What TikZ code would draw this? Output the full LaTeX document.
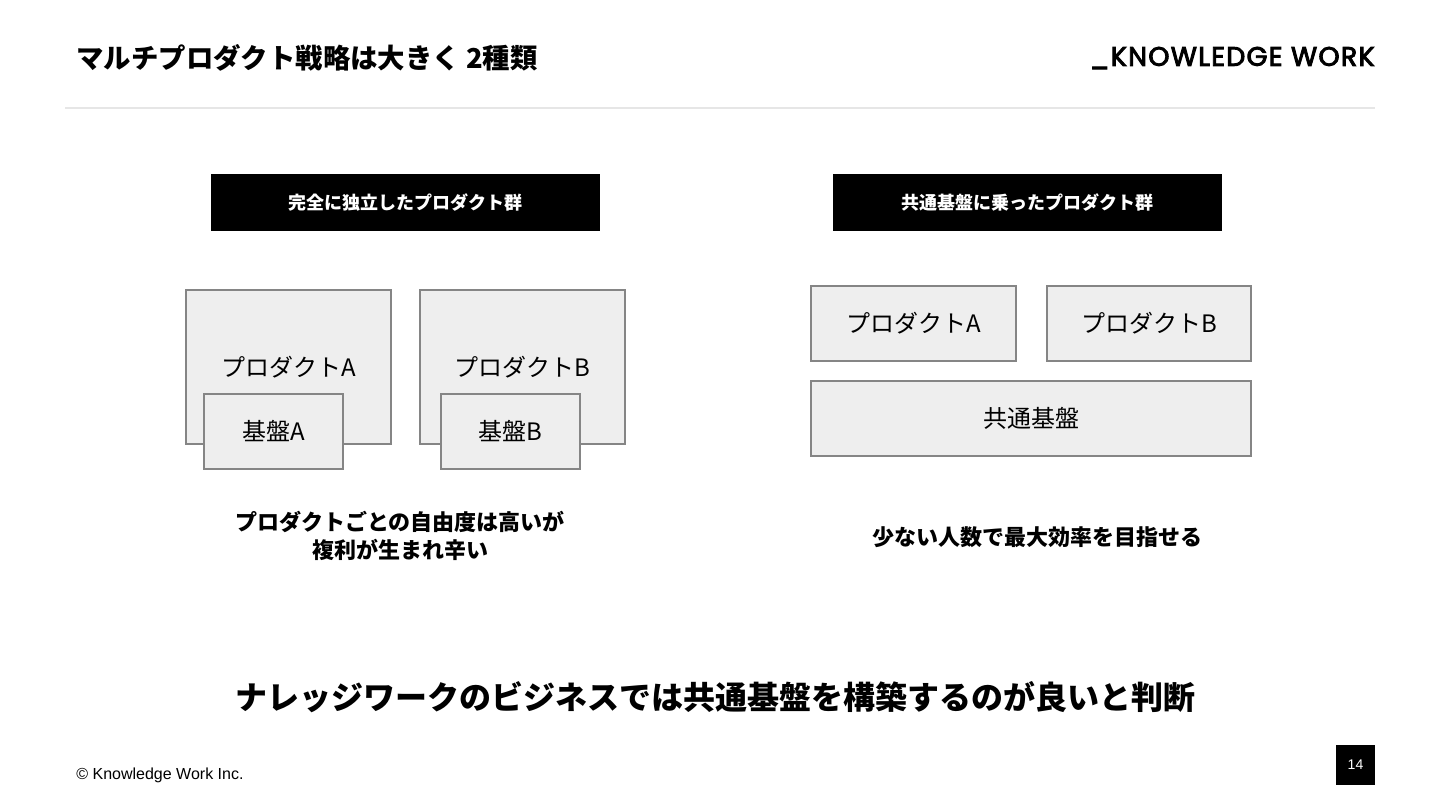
\documentclass[tikz,border=0pt]{standalone}
\usepackage{fontspec}
\setmainfont{Liberation Sans}
\newfontfamily\jpfont{Noto Sans CJK JP}
\newfontfamily\logofont{Poppins}[FakeBold=3.5, LetterSpace=5]
\usetikzlibrary{positioning}
\definecolor{boxgray}{HTML}{EEEEEE}
\definecolor{edgegray}{HTML}{858585}
\definecolor{rulegray}{HTML}{E6E6E6}
\tikzset{
	head/.style={fill=black, text=white, inner sep=0pt,
		minimum width=194.5pt, minimum height=28.5pt,
		font=\jpfont\bfseries\fontsize{9}{11}\selectfont},
	block/.style={fill=boxgray, draw=edgegray, line width=1pt, inner sep=0pt,
		font=\jpfont\fontsize{12}{14}\selectfont},
	note/.style={align=center, font=\jpfont\bfseries\fontsize{11}{14}\selectfont},
}

\begin{document}
\begin{tikzpicture}[x=0.5pt, y=-0.5pt]
	\useasboundingbox[fill=white] (0,0) rectangle (1440,810);
	% top bar
	\node[anchor=west, inner sep=0pt, font=\jpfont\bfseries\fontsize{13.7}{16}\selectfont] (title) at (76,58) {マルチプロダクト戦略は大きく 2種類};
	\node[anchor=east, inner sep=0pt, font=\logofont\fontsize{13.4}{15}\selectfont] (logo) at (1375,58) {\_KNOWLEDGE WORK};
	\draw[rulegray, line width=1pt] (65,108) -- (1375,108);
	% headers
	\node[head] (lefthead) at (405.5,202.5) {完全に独立したプロダクト群};
	\node[head] (righthead) at (1027.5,202.5) {共通基盤に乗ったプロダクト群};
	% independent products
	\node[block, minimum width=102.5pt, minimum height=77pt] (prodA) at (288.5,367) {プロダクトA};
	\node[block, minimum width=69.5pt, minimum height=37.5pt] (baseA) at (273.5,431.5) {基盤A};
	\node[block, minimum width=102.5pt, minimum height=77pt] (prodB) at (522.5,367) {プロダクトB};
	\node[block, minimum width=69.5pt, minimum height=37.5pt] (baseB) at (510.5,431.5) {基盤B};
	% shared platform
	\node[block, minimum width=102.5pt, minimum height=37.5pt] (sprodA) at (913.5,323.5) {プロダクトA};
	\node[block, minimum width=102pt, minimum height=37.5pt] (sprodB) at (1149,323.5) {プロダクトB};
	\node[block, minimum width=220pt, minimum height=37.5pt] (common) at (1031,418.5) {共通基盤};
	% captions
	\node[note] (leftnote) at (400,536) {プロダクトごとの自由度は高いが\\複利が生まれ辛い};
	\node[note] (rightnote) at (1037,537) {少ない人数で最大効率を目指せる};
	\node[font=\jpfont\bfseries\fontsize{16}{18}\selectfont] (verdict) at (715,697) {ナレッジワークのビジネスでは共通基盤を構築するのが良いと判断};
	% footer
	\node[anchor=west, inner sep=0pt, font=\fontsize{8}{9}\selectfont] (copy) at (76,775) {© Knowledge Work Inc.};
	\node[fill=black, text=white, inner sep=0pt, minimum width=19.5pt, minimum height=20pt,
		font=\fontsize{7}{8}\selectfont] (page) at (1355.5,765) {14};
\end{tikzpicture}
\end{document}
